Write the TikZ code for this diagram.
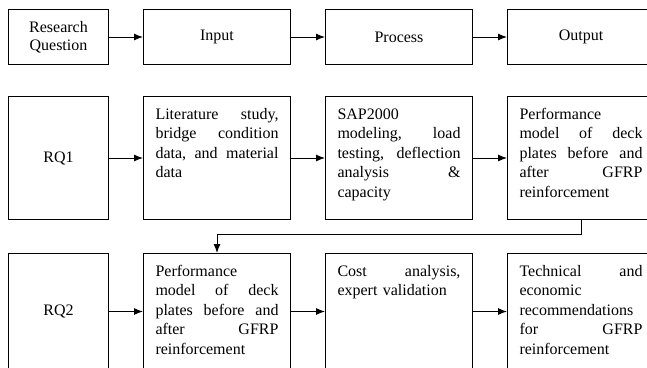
\documentclass[tikz,border=0pt]{standalone}
\usepackage{fontspec}
\setmainfont{Liberation Serif}
\usetikzlibrary{positioning,arrows.meta}
\tikzset{>={Latex[length=9pt,width=7pt]}}
\newcommand{\jline}[1]{\makebox[123pt][s]{#1}\\}

\begin{document}
\begin{tikzpicture}
                        % head row, then one row of boxes per research question
                        \tikzstyle{every node}=[rectangle, draw=black, line width=1pt, font=\fontsize{16pt}{19.5pt}\selectfont]
                        \tikzstyle{every edge}=[black, ->, line width=1pt, draw]
                        \tikzstyle{headcell}=[minimum width=147pt, minimum height=55pt, align=center]
                        \tikzstyle{rqcell}=[minimum width=100pt, align=center]
                        \tikzstyle{textcell}=[text width=123pt, inner xsep=12pt, inner ysep=6pt, text height=16.5pt]
                        \useasboundingbox (0,0) rectangle (647pt,-367pt);

                        \node[headcell, minimum width=100pt, anchor=north west] (rq) at (8pt,-9pt) {Research\\[-1.5pt]Question};
                        \node[headcell, right=34pt of rq] (inp) {Input};
                        \node[headcell, right=34pt of inp] (proc) {Process};
                        \node[headcell, right=34pt of proc] (outp) {Output};
                        \draw (rq) edge (inp);
                        \draw (inp) edge (proc);
                        \draw (proc) edge (outp);

                        \node[rqcell, minimum height=123pt, below=31pt of rq] (rq1) {RQ1};
                        \node[textcell, text depth=94.5pt, right=34pt of rq1] (in1)
                                {\jline{Literature\hfill study,}\jline{bridge\hfill condition}\jline{data,\hfill and\hfill material}data};
                        \node[textcell, text depth=94.5pt, right=34pt of in1] (proc1)
                                {SAP2000\\\jline{modeling,\hfill load}\jline{testing,\hfill deflection}\jline{analysis\hfill \&}capacity};
                        \node[textcell, text depth=94.5pt, right=34pt of proc1] (out1)
                                {Performance\\\jline{model\hfill of\hfill deck}\jline{plates\hfill before\hfill and}\jline{after\hfill GFRP}reinforcement};
                        \draw (rq1) edge (in1);
                        \draw (in1) edge (proc1);
                        \draw (proc1) edge (out1);

                        \node[rqcell, minimum height=116pt, below=33pt of rq1] (rq2) {RQ2};
                        \node[textcell, text depth=87.5pt, right=34pt of rq2] (in2)
                                {Performance\\\jline{model\hfill of\hfill deck}\jline{plates\hfill before\hfill and}\jline{after\hfill GFRP}reinforcement};
                        \node[textcell, text depth=87.5pt, right=34pt of in2] (proc2)
                                {\jline{Cost\hfill analysis,}expert validation};
                        \node[textcell, text depth=87.5pt, right=34pt of proc2] (out2)
                                {\jline{Technical\hfill and}economic\\recommendations\\\jline{for\hfill GFRP}reinforcement};
                        \draw (rq2) edge (in2);
                        \draw (in2) edge (proc2);
                        \draw (proc2) edge (out2);

                        \draw[->, line width=1pt] (out1.south) -- ++(0,-14pt) -| (in2.north);
\end{tikzpicture}
\end{document}
